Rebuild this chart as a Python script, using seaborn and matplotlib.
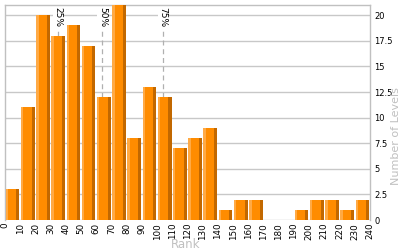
import matplotlib
matplotlib.use("Agg")
import matplotlib.pyplot as plt
import seaborn as sns
import numpy as np
import pandas as pd

bin_edges = list(range(0, 250, 10))
counts = [3, 11, 20, 18, 19, 17, 12, 21, 8, 13, 12, 7, 8, 9, 1, 2, 2, 0, 0, 1, 2, 2, 1, 2]
percentile_labels = ["25%", "50%", "75%"]
percentile_ranks = [35, 64, 104]
yticks = [0, 2.5, 5, 7.5, 10, 12.5, 15, 17.5, 20]

sns.set_theme(style="white")
plt.rcParams['font.family'] = ['DejaVu Sans']

fig = plt.figure(figsize=(4, 2.5), dpi=100)
ax = fig.add_axes([0.0125, 0.12, 0.9125, 0.86])

centers = [e + 5 for e in bin_edges[:-1]]
df = pd.DataFrame({"rank": centers, "count": counts})

for p in percentile_ranks:
    ax.axvline(p, color="#b0b0b0", lw=0.9, ls=(0, (4, 3)), zorder=1)

sns.barplot(data=df, x="rank", y="count", native_scale=True, width=0.9,
            color="#FF8C00", saturation=1, edgecolor="none", ax=ax, zorder=3)
lefts = [c - 4.5 for c in centers]
ax.bar(lefts, counts, width=1.6, align="edge", color="#FFAA45", lw=0, zorder=4)
ax.bar([c + 2.5 for c in centers], counts, width=2.0, align="edge", color="#C26800", lw=0, zorder=4)

for lab, p in zip(percentile_labels, percentile_ranks):
    ax.text(p, 20.8, lab, rotation=270, ha="center", va="top", fontsize=6.5,
            color="black", zorder=2,
            bbox=dict(facecolor="white", edgecolor="none", pad=0.5))

ax.set_xlim(0, 240)
ax.set_ylim(0, 21)
ax.set_xticks(bin_edges)
ax.set_xticklabels([str(e) for e in bin_edges], rotation=90, fontsize=6.3)
ax.set_yticks(yticks)
ax.set_yticklabels([f"{t:g}" for t in yticks], fontsize=6.0)
ax.yaxis.tick_right()
ax.tick_params(axis="both", length=0, pad=2, colors="black")
ax.tick_params(axis="y", pad=3)
ax.yaxis.grid(True, color="#c8c8c8", lw=1)
ax.set_axisbelow(True)
for s in ["left", "right", "top"]:
    ax.spines[s].set_visible(True)
    ax.spines[s].set_color("#c0c0c0")
    ax.spines[s].set_linewidth(1)
ax.spines["bottom"].set_visible(False)

ax.set_xlabel("Rank", color="#c0c0c0", fontsize=8.5)
ax.xaxis.set_label_coords(0.496, -0.115)
ax.xaxis.label.set_va("center")
ax.set_ylabel("Number of Levels", color="#c0c0c0", fontsize=8, rotation=90)
ax.yaxis.set_label_coords(1.071, 0.39)
ax.yaxis.label.set_va("center")
ax.yaxis.label.set_ha("center")

fig.savefig("out.png", dpi=100)
